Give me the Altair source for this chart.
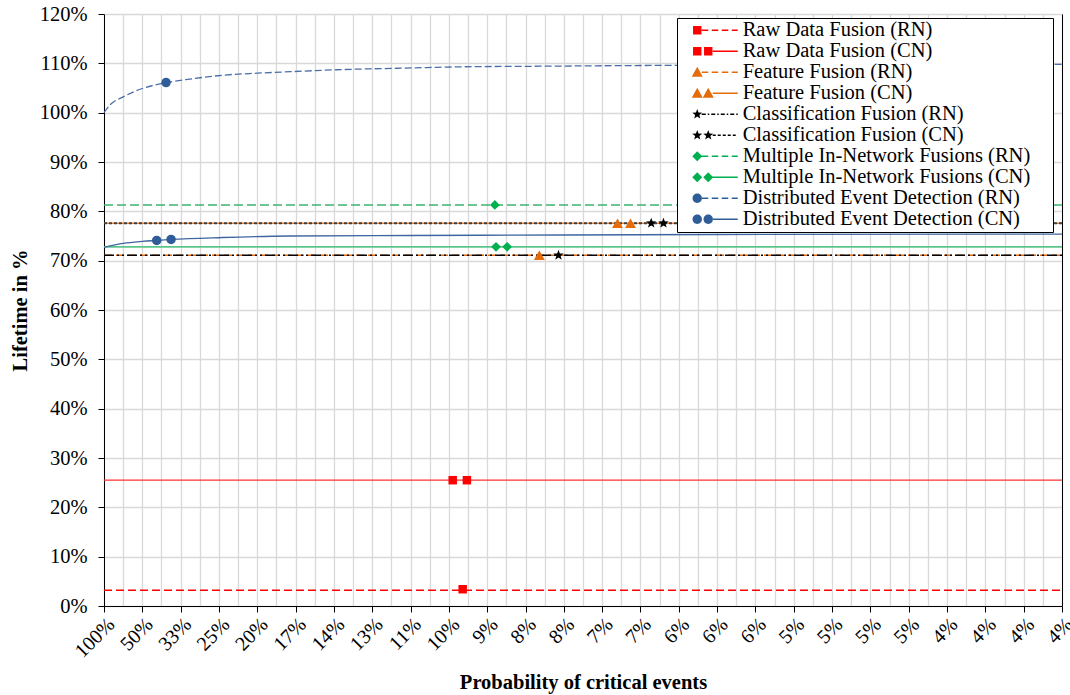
import json
import math
import altair as alt
import pandas as pd

# ---------------- data ----------------
x_labels = ["100%", "50%", "33%", "25%", "20%", "17%", "14%", "13%", "11%", "10%",
            "9%", "8%", "8%", "7%", "7%", "6%", "6%", "6%", "5%", "5%",
            "5%", "5%", "4%", "4%", "4%", "4%"]

series_names = [
    "Raw Data Fusion (RN)", "Raw Data Fusion (CN)",
    "Feature Fusion (RN)", "Feature Fusion (CN)",
    "Classification Fusion (RN)", "Classification Fusion (CN)",
    "Multiple In-Network Fusions (RN)", "Multiple In-Network Fusions (CN)",
    "Distributed Event Detection (RN)", "Distributed Event Detection (CN)",
]

# lifetime curves (x = category position, y = lifetime in %)
raw_rn_x, raw_rn_y = [0, 25], [3.2, 3.2]
raw_cn_x, raw_cn_y = [0, 25], [25.5, 25.5]
feat_rn_x, feat_rn_y = [0, 25], [71.1, 71.1]
feat_cn_x, feat_cn_y = [0, 25], [77.6, 77.6]
class_rn_x, class_rn_y = [0, 25], [71.1, 71.1]
class_cn_x, class_cn_y = [0, 25], [77.6, 77.6]
multi_rn_x, multi_rn_y = [0, 25], [81.3, 81.3]
multi_cn_x, multi_cn_y = [0, 25], [72.8, 72.8]
ded_rn_x = [0, 0.16, 0.5, 1.0, 1.64, 2.24, 3.11, 4.0, 4.85, 6.07, 7.64, 9.38, 11.12, 12.86, 14.94, 20, 25]
ded_rn_y = [100.0, 101.6, 103.2, 104.9, 106.1, 106.8, 107.6, 108.0, 108.3, 108.7, 109.0, 109.3, 109.4, 109.5, 109.6, 109.7, 109.8]
ded_cn_x = [0, 0.5, 1.0, 1.375, 1.75, 3.1, 4.85, 8, 12, 16, 25]
ded_cn_y = [72.7, 73.5, 73.9, 74.1, 74.3, 74.7, 75.0, 75.1, 75.2, 75.3, 75.4]

# markers
raw_rn_mx, raw_rn_my = [9.36], [3.4]
raw_cn_mx, raw_cn_my = [9.10, 9.47], [25.5, 25.5]
feat_rn_mx, feat_rn_my = [11.36], [71.1]
feat_cn_mx, feat_cn_my = [13.40, 13.74], [77.6, 77.6]
class_rn_mx, class_rn_my = [11.86], [71.1]
class_cn_mx, class_cn_my = [14.28, 14.60], [77.6, 77.6]
multi_rn_mx, multi_rn_my = [10.20], [81.3]
multi_cn_mx, multi_cn_my = [10.23, 10.52], [72.8, 72.8]
ded_rn_mx, ded_rn_my = [1.62], [106.1]
ded_cn_mx, ded_cn_my = [1.375, 1.75], [74.1, 74.3]

line_data = [
    (raw_rn_x, raw_rn_y), (raw_cn_x, raw_cn_y),
    (feat_rn_x, feat_rn_y), (feat_cn_x, feat_cn_y),
    (class_rn_x, class_rn_y), (class_cn_x, class_cn_y),
    (multi_rn_x, multi_rn_y), (multi_cn_x, multi_cn_y),
    (ded_rn_x, ded_rn_y), (ded_cn_x, ded_cn_y),
]
marker_data = [
    (raw_rn_mx, raw_rn_my), (raw_cn_mx, raw_cn_my),
    (feat_rn_mx, feat_rn_my), (feat_cn_mx, feat_cn_my),
    (class_rn_mx, class_rn_my), (class_cn_mx, class_cn_my),
    (multi_rn_mx, multi_rn_my), (multi_cn_mx, multi_cn_my),
    (ded_rn_mx, ded_rn_my), (ded_cn_mx, ded_cn_my),
]

# ---------------- styles ----------------
RED, ORANGE, BLACK, GREEN, BLUE = "#FF0000", "#E46C0A", "#000000", "#00B050", "#2E5D97"
line_colors = ["#FF0000", "#FF3030", ORANGE, "#E9813A", "#000000", "#404040",
               "#3DB46D", "#5CC589", "#4A6FA8", "#3F66A0"]
line_dashes = [[8, 4], None, [8, 4], None, [10, 3, 2, 3, 2, 3], [3, 2],
               [9, 4], None, [7, 3], None]
line_widths = [1.5, 1.2, 1.5, 1.5, 1.3, 2.0, 1.5, 1.6, 1.3, 1.3]
marker_colors = [RED, RED, ORANGE, ORANGE, BLACK, BLACK, GREEN, GREEN, BLUE, BLUE]


def star_unit(R=1.0, r=0.42):
    pts = []
    for i in range(10):
        rad = R if i % 2 == 0 else r
        a = -math.pi / 2 + i * math.pi / 5
        pts.append((rad * math.cos(a), rad * math.sin(a)))
    return "M" + "L".join(f"{px:.3f},{py:.3f}" for px, py in pts) + "Z"


marker_shapes = ["square", "square", "triangle-up", "triangle-up", star_unit(), star_unit(),
                 "diamond", "diamond", "circle", "circle"]
marker_sizes = [72, 72, 120, 120, 120, 120, 95, 95, 90, 90]


# legend symbol paths (pixel units: symbolSize 4 -> scale 1)
def rect(x0, x1, hw=0.75):
    return f"M{x0:.2f},{-hw}H{x1:.2f}V{hw}H{x0:.2f}Z"


def pattern_line(x0, x1, pattern):
    if pattern is None:
        return rect(x0, x1)
    parts, x, i = [], x0, 0
    while x < x1:
        seg = pattern[i % len(pattern)]
        if i % 2 == 0:
            parts.append(rect(x, min(x + seg, x1)))
        x += seg
        i += 1
    return "".join(parts)


def m_square(cx, r=4.2):
    return f"M{cx - r},{-r}H{cx + r}V{r}H{cx - r}Z"


def m_triangle(cx, r=5.5):
    return f"M{cx},{-r}L{cx + r},{r * 0.8}L{cx - r},{r * 0.8}Z"


def m_diamond(cx, r=5):
    return f"M{cx},{-r}L{cx + r},0L{cx},{r}L{cx - r},0Z"


def m_circle(cx, r=4.7):
    return f"M{cx - r},0A{r},{r} 0 1,0 {cx + r},0A{r},{r} 0 1,0 {cx - r},0Z"


def m_star(cx, R=5.2, r=2.2):
    pts = []
    for i in range(10):
        rad = R if i % 2 == 0 else r
        a = -math.pi / 2 + i * math.pi / 5
        pts.append((cx + rad * math.cos(a), rad * math.sin(a)))
    return "M" + "L".join(f"{px:.2f},{py:.2f}" for px, py in pts) + "Z"


marker_fns = [m_square, m_square, m_triangle, m_triangle, m_star, m_star,
              m_diamond, m_diamond, m_circle, m_circle]
legend_dashes = [[6.5, 3.5], None, [6.5, 3.5], None, [4, 2, 1.5, 2], [3, 2],
                 [6.5, 3.5], None, [6.5, 3.5], None]
legend_paths = []
for i in range(10):
    f = marker_fns[i]
    if i % 2 == 0:
        p = f(0) + pattern_line(4.5, 40.5, legend_dashes[i])
    else:
        p = f(0) + f(11) + pattern_line(15.5, 40.5, legend_dashes[i])
    legend_paths.append(p)

# ---------------- chart ----------------
W, H = 958, 592
FONT = "Liberation Serif"

x_scale = alt.Scale(domain=[0, 25], nice=False, zero=False)
y_scale = alt.Scale(domain=[0, 120], nice=False, zero=False)

x_axis = alt.Axis(
    values=[i / 2 for i in range(51)],
    labelExpr=f"datum.value % 1 == 0 ? {json.dumps(x_labels)}[datum.value] : ''",
    labelAngle=-45, labelFont=FONT, labelFontSize=20, labelColor="black",
    labelPadding=2, labelOverlap=False, labelBound=False, labelFlush=False,
    tickSize=6, tickColor={"condition": {"test": "datum.value % 1 == 0", "value": "black"},
                           "value": "transparent"},
    domainColor="black", domainWidth=1,
    grid=True, gridColor="#D9D9D9", gridWidth=1.3,
    title="Probability of critical events", titleFont=FONT, titleFontSize=20.5,
    titleFontWeight="bold", titleColor="black", titleY=76, titleBaseline="middle",
)
y_axis = alt.Axis(
    values=list(range(0, 121, 10)), labelExpr="datum.value + '%'",
    labelFont=FONT, labelFontSize=20.5, labelColor="black", labelPadding=11,
    tickSize=6, tickColor="black", domainColor="black", domainWidth=1,
    grid=True, gridColor="#D9D9D9", gridWidth=1.3,
    title="Lifetime in %", titleFont=FONT, titleFontSize=20.5, titleFontWeight="bold",
    titleColor="black", titleX=-84, titleBaseline="middle",
)

X = alt.X("x:Q", scale=x_scale, axis=x_axis)

layers = []
for i, (xs, ys) in enumerate(line_data):
    df = pd.DataFrame({"x": xs, "y": ys})
    kw = dict(color=line_colors[i], strokeWidth=line_widths[i], interpolate="monotone")
    if line_dashes[i] is not None:
        kw["strokeDash"] = line_dashes[i]
    layers.append(
        alt.Chart(df).mark_line(**kw).encode(
            x=X, y=alt.Y("y:Q", scale=y_scale, axis=y_axis if i == 0 else None)
        )
    )

for i, (xs, ys) in enumerate(marker_data):
    df = pd.DataFrame({"x": xs, "y": ys})
    layers.append(
        alt.Chart(df).mark_point(shape=marker_shapes[i], filled=True, color=marker_colors[i],
                                 size=marker_sizes[i], opacity=1, strokeWidth=0).encode(
            x=X, y=alt.Y("y:Q", scale=y_scale, axis=None)
        )
    )

tail = "\u00a0\u2800"
legend = alt.Legend(
    orient="none", legendX=573, legendY=4, title=None,
    labelFont=FONT, labelFontSize=20.5, labelColor="black", labelLimit=500,
    labelExpr=f"datum.label + '{tail}'",
    symbolSize=4, symbolStrokeWidth=0, symbolOpacity=1, symbolOffset=8, labelOffset=35.2,
    padding=2, strokeColor="black", fillColor="white", rowPadding=-0.8,
)
legend_df = pd.DataFrame({"series": series_names, "x": [0] * 10, "y": [0] * 10})
legend_layer = alt.Chart(legend_df).mark_point(filled=True, opacity=0).encode(
    x=X,
    y=alt.Y("y:Q", scale=y_scale,
            axis=alt.Axis(orient="right", labels=False, ticks=False, grid=False, title=None,
                          domainColor="black", domainWidth=1)),
    fill=alt.Fill("series:N", scale=alt.Scale(domain=series_names, range=marker_colors),
                  legend=legend),
    shape=alt.Shape("series:N", scale=alt.Scale(domain=series_names, range=legend_paths),
                    legend=legend),
)
layers.append(legend_layer)

chart = alt.layer(*layers).resolve_scale(y="shared").resolve_axis(y="independent").properties(
    width=W, height=H,
    autosize=alt.AutoSizeParams(type="none"),
    padding={"left": 104, "top": 14, "right": 8, "bottom": 89},
    background="white",
).configure_view(stroke=None)

chart.save("out.html", embed_options={"renderer": "svg", "actions": False})
